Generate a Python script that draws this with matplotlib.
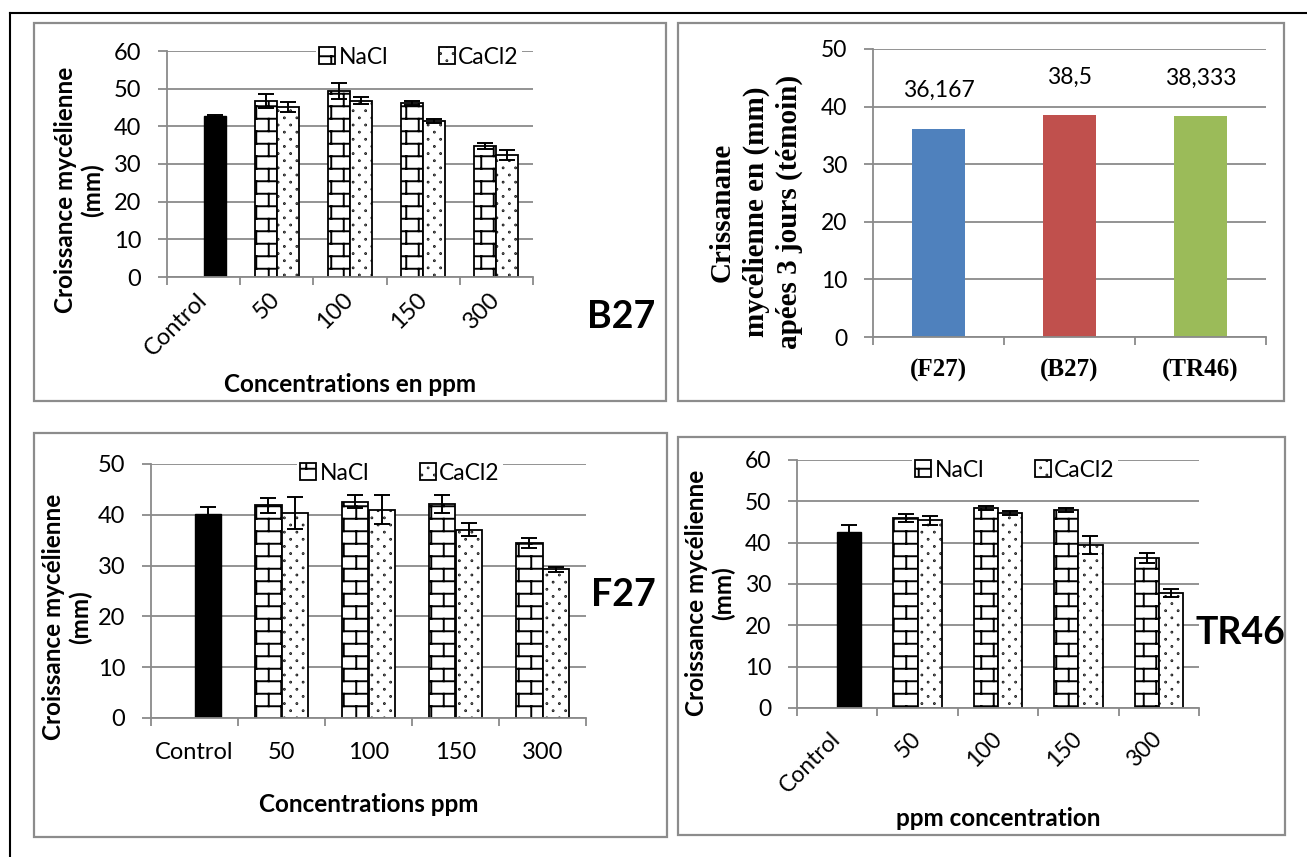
import warnings
import numpy as np
import matplotlib
matplotlib.use("Agg")
import matplotlib.pyplot as plt
import matplotlib.hatch as mhatch
from matplotlib.path import Path
from matplotlib.patches import Rectangle
from matplotlib.lines import Line2D

warnings.filterwarnings("ignore", message=".*hatch must consist.*")

# ---------------------------------------------------------------- data
concentrations = ["Control", "50", "100", "150", "300"]

b27_control = 42.8
b27_control_err = 0.3
b27_nacl = [46.7, 49.3, 46.1, 34.8]
b27_nacl_err = [1.9, 2.1, 0.5, 0.8]
b27_cacl2 = [45.1, 46.8, 41.5, 32.4]
b27_cacl2_err = [1.3, 0.9, 0.5, 1.4]

f27_control = 40.1
f27_control_err = 1.35
f27_nacl = [41.9, 42.6, 42.1, 34.5]
f27_nacl_err = [1.5, 1.3, 1.7, 1.0]
f27_cacl2 = [40.4, 41.0, 37.1, 29.3]
f27_cacl2_err = [3.1, 2.8, 1.3, 0.5]

tr46_control = 42.7
tr46_control_err = 1.5
tr46_nacl = [46.0, 48.4, 47.8, 36.4]
tr46_nacl_err = [0.9, 0.45, 0.5, 1.2]
tr46_cacl2 = [45.4, 47.2, 39.5, 27.8]
tr46_cacl2_err = [1.1, 0.5, 2.2, 0.9]

isolates = ["(F27)", "(B27)", "(TR46)"]
temoin = [36.167, 38.5, 38.333]
temoin_colors = ["#4F81BD", "#C0504D", "#9BBB59"]


# ------------------------------------------------------ custom hatches
class BrickHatch(mhatch.HatchPatternBase):
    """Running-bond brick texture, selected with 'b' in a hatch string."""

    def __init__(self, hatch, density):
        rows = int(round(hatch.count("b") * density * 4 / 3))
        rows += rows % 2
        self.num_rows = rows
        self.bricks = rows // 2
        self.num_vertices = 0 if rows == 0 else 2 * rows + 2 * self.bricks * (rows + 1)

    def set_vertices_and_codes(self, vertices, codes):
        n = self.num_rows
        step = 1.0 / n
        ys = (np.arange(n) + 0.5) * step
        segs = [((0.0, y), (1.0, y)) for y in ys]
        for i, y0 in enumerate(ys):
            y1 = y0 + step
            for x in (2 * np.arange(self.bricks) + (i % 2) + 0.5) * step:
                if y1 <= 1.0 + 1e-9:
                    segs.append(((x, y0), (x, y1)))
                else:
                    segs.append(((x, y0), (x, 1.0)))
                    segs.append(((x, 0.0), (x, y1 - 1.0)))
        vertices[:] = np.asarray(segs, dtype=float).reshape(-1, 2)
        codes[0::2] = Path.MOVETO
        codes[1::2] = Path.LINETO


class DotHatch(mhatch.HatchPatternBase):
    """Sparse staggered dots, selected with 'd' in a hatch string."""

    def __init__(self, hatch, density):
        c = hatch.count("d")
        rows = int(round(c * density * 7 / 3))
        rows += rows % 2
        self.rows = rows
        self.cols = int(round(c * density * 4 / 3))
        self.circle = Path.unit_circle()
        self.num_vertices = rows * self.cols * len(self.circle.vertices)

    def set_vertices_and_codes(self, vertices, codes):
        r = 0.004
        nv = len(self.circle.vertices)
        k = 0
        for j in range(self.rows):
            y = (j + 0.5) / self.rows
            for i in range(self.cols):
                x = (i + 0.25 + 0.5 * (j % 2)) / self.cols
                vertices[k:k + nv] = self.circle.vertices * r + (x, y)
                codes[k:k + nv] = self.circle.codes
                k += nv


mhatch._hatch_types.extend([BrickHatch, DotHatch])

# --------------------------------------------------------------- style
plt.rcParams["font.family"] = ["Lato", "DejaVu Sans"]
plt.rcParams["hatch.linewidth"] = 1.4
plt.rcParams["hatch.color"] = "black"

GRID = "#8a8a8a"
FRAME = "#8c8c8c"
SERIF = ["Liberation Serif", "DejaVu Serif"]

W, H = 1307, 857
fig = plt.figure(figsize=(W / 100, H / 100), dpi=100)


def fx(x):
    return x / W


def fy(y):
    return 1 - y / H


def add_axes_px(x0, y0, x1, y1):
    return fig.add_axes([fx(x0), fy(y1), (x1 - x0) / W, (y1 - y0) / H])


def add_frame(x0, y0, x1, y1):
    fig.add_artist(Rectangle((fx(x0), fy(y1)), (x1 - x0) / W, (y1 - y0) / H,
                             transform=fig.transFigure, fill=False,
                             edgecolor=FRAME, lw=1.6))


def style_axes(ax, ymax, n_cat, ysize):
    ax.set_xlim(-0.5, n_cat - 0.5)
    ax.set_ylim(0, ymax)
    ax.set_yticks(np.arange(0, ymax + 1, 10))
    ax.yaxis.grid(True, color=GRID, lw=1.3)
    ax.set_axisbelow(True)
    for s in ("top", "right"):
        ax.spines[s].set_visible(False)
    for s in ("left", "bottom"):
        ax.spines[s].set_color(GRID)
        ax.spines[s].set_linewidth(1.3)
    ax.set_xticks(np.arange(n_cat))
    ax.set_xticks(np.arange(n_cat + 1) - 0.5, minor=True)
    ax.tick_params(axis="x", which="major", length=0)
    ax.tick_params(axis="x", which="minor", length=6, width=1.3, color=GRID)
    ax.tick_params(axis="y", length=6.5, width=1.3, color=GRID, pad=12,
                   labelsize=ysize)
    ax.patch.set_alpha(0)


def salt_panel(box, ymax, control, control_err, nacl, nacl_err, cacl2, cacl2_err,
               rotate, tick_size, tick_pad, xlabel, xlabel_xy, tag, tag_xy,
               legend_xy, ylabel_xy):
    ax = add_axes_px(*box)
    style_axes(ax, ymax, len(concentrations), tick_size)
    x = np.arange(len(concentrations))
    w = 0.3
    ekw = dict(ecolor="black", elinewidth=1.4, capsize=5.5, capthick=1.4)
    ax.bar(x[0] + w / 2, control, w, yerr=control_err, color="black",
           edgecolor="black", lw=1.0, error_kw=ekw)
    nacl_bars = ax.bar(x[1:] - w / 2, nacl, w, yerr=nacl_err, color="white",
                       edgecolor="black", lw=1.3, hatch="b", error_kw=ekw,
                       label="NaCl")
    cacl2_bars = ax.bar(x[1:] + w / 2, cacl2, w, yerr=cacl2_err, color="white",
                        edgecolor="black", lw=1.3, hatch="d", error_kw=ekw,
                        label="CaCl2")
    if rotate:
        ax.set_xticklabels(concentrations, rotation=45, ha="right", va="center",
                           rotation_mode="anchor")
    else:
        ax.set_xticklabels(concentrations)
    ax.tick_params(axis="x", which="major", pad=tick_pad, labelsize=tick_size)
    ax.legend(handles=[nacl_bars, cacl2_bars], loc="center",
              bbox_to_anchor=(fx(legend_xy[0]), fy(legend_xy[1])),
              bbox_transform=fig.transFigure, ncol=2, frameon=True,
              fancybox=False, facecolor="white", edgecolor="none",
              framealpha=1, fontsize=16.5, handlelength=0.7, handleheight=0.7,
              handletextpad=0.15, columnspacing=2.2, borderpad=0.15,
              borderaxespad=0)
    fig.text(fx(xlabel_xy[0]), fy(xlabel_xy[1]), xlabel, ha="center",
             va="center", fontsize=17.5, fontweight="bold")
    fig.text(fx(ylabel_xy[0]), fy(ylabel_xy[1]), "Croissance mycélienne\n(mm)",
             rotation=90, ha="center", va="center", multialignment="center",
             fontsize=17.5, fontweight="bold", linespacing=1.15)
    fig.text(fx(tag_xy[0]), fy(tag_xy[1]), tag, ha="center", va="center",
             fontsize=27, fontweight="bold")
    return ax


# -------------------------------------------------------- outer frame
fig.add_artist(Line2D([fx(9.5), fx(W)], [fy(12.5), fy(12.5)],
                      transform=fig.transFigure, color="black", lw=1.5))
fig.add_artist(Line2D([fx(9.5), fx(9.5)], [fy(12.5), fy(H)],
                      transform=fig.transFigure, color="black", lw=1.5))

# ---------------------------------------------------------- panel frames
add_frame(34, 23, 666, 401)
add_frame(678, 23, 1284, 401)
add_frame(34, 433, 667, 837)
add_frame(678, 437, 1285, 835)

# --------------------------------------------------------------- B27
salt_panel((167, 51, 533, 277), 60, b27_control, b27_control_err,
           b27_nacl, b27_nacl_err, b27_cacl2, b27_cacl2_err,
           rotate=True, tick_size=17, tick_pad=14,
           xlabel="Concentrations en ppm", xlabel_xy=(350, 384),
           tag="B27", tag_xy=(621, 317), legend_xy=(419, 57),
           ylabel_xy=(79, 190))

# --------------------------------------------------------------- F27
salt_panel((151, 464, 586, 718), 50, f27_control, f27_control_err,
           f27_nacl, f27_nacl_err, f27_cacl2, f27_cacl2_err,
           rotate=False, tick_size=17, tick_pad=17,
           xlabel="Concentrations ppm", xlabel_xy=(369, 805),
           tag="F27", tag_xy=(623, 595), legend_xy=(400, 473),
           ylabel_xy=(67, 617))

# -------------------------------------------------------------- TR46
salt_panel((797, 460, 1199, 708), 60, tr46_control, tr46_control_err,
           tr46_nacl, tr46_nacl_err, tr46_cacl2, tr46_cacl2_err,
           rotate=True, tick_size=16.5, tick_pad=20,
           xlabel="ppm concentration", xlabel_xy=(998, 818),
           tag="TR46", tag_xy=(1240, 633), legend_xy=(1015, 470),
           ylabel_xy=(710, 593))

# ------------------------------------------------- control growth (témoin)
ax2 = add_axes_px(873, 49, 1266, 337)
style_axes(ax2, 50, len(isolates), 16.5)
xi = np.arange(len(isolates))
ax2.bar(xi, temoin, 0.4, color=temoin_colors)
label_lift = 6.6
for x, v in zip(xi, temoin):
    ax2.text(x, v + label_lift, f"{v:g}".replace(".", ","), ha="center",
             va="center", fontsize=16.5)
ax2.set_xticklabels(isolates, fontfamily=SERIF, fontweight="bold", fontsize=18)
ax2.tick_params(axis="x", which="major", pad=16)
fig.text(fx(756), fy(212), "Crissanane\nmycélienne en (mm)\napées 3 jours (témoin)",
         rotation=90, ha="center", va="center", multialignment="center",
         fontfamily=SERIF, fontweight="bold", fontsize=21, linespacing=1.3)

fig.savefig("out.png", dpi=100, facecolor="white")
